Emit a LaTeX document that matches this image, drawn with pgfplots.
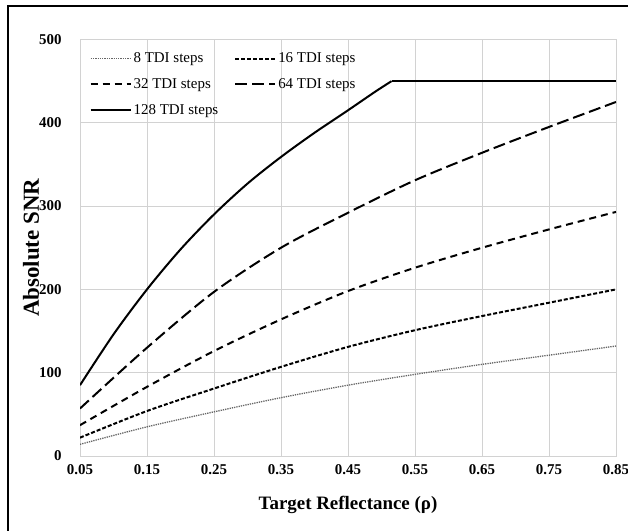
\documentclass[border=0pt]{standalone}
\usepackage{fontspec}
\setmainfont{Liberation Serif}
\usepackage{pgfplots}
\pgfplotsset{compat=1.18}
\begin{document}
\begin{tikzpicture}[x=1bp,y=1bp]
\useasboundingbox (0,0) rectangle (628,531);
\draw[line width=2bp] (8,-5) -- (8,525) -- (640,525);
\begin{axis}[
  at={(80bp,75bp)}, anchor=south west,
  scale only axis, width=536bp, height=416.5bp,
  xmin=0.05, xmax=0.85, ymin=0, ymax=500,
  xtick={0.05,0.15,0.25,0.35,0.45,0.55,0.65,0.75,0.85},
  xticklabels={0.05,0.15,0.25,0.35,0.45,0.55,0.65,0.75,0.85},
  ytick={0,100,200,300,400,500},
  grid=major,
  major grid style={gray!35, line width=0.9bp},
  axis line style={gray!35, line width=0.9bp},
  tick style={draw=none},
  /pgf/number format/assume math mode=true,
  ticklabel style={font=\fontsize{15}{15}\selectfont\bfseries},
  yticklabel style={xshift=-15bp},
  xticklabel style={yshift=-5bp},
  xlabel={Target Reflectance (ρ)},
  ylabel={Absolute SNR},
  xlabel style={at={(axis description cs:0.5,-0.1176)}, anchor=center, font=\fontsize{19}{19}\selectfont\bfseries},
  ylabel style={at={(axis description cs:-0.0914,0.5)}, anchor=center, font=\fontsize{23}{23}\selectfont\bfseries},
  legend columns=2,
  legend cell align=left,
  legend style={at={(axis description cs:0.012,0.978)}, anchor=north west, draw=none, fill=none,
    font=\fontsize{15}{15}\selectfont, row sep=10.5bp,
    /tikz/every even column/.append style={column sep=14bp}},
  legend image code/.code={\draw[#1] (0bp,0bp) -- (40bp,0bp);},
]
\addplot[gray!80!black, line width=1.3bp, densely dotted, smooth] coordinates {
(0.05,14)(0.15,35)(0.25,53)(0.35,70)(0.45,85)(0.55,98)(0.65,110)(0.75,121)(0.85,132)};
\addlegendentry{8 TDI steps}
\addplot[black, line width=2bp, dash pattern=on 4bp off 2bp, smooth] coordinates {
(0.05,22)(0.15,54)(0.25,81)(0.35,107)(0.45,131)(0.55,151)(0.65,168)(0.75,184)(0.85,200)};
\addlegendentry{16 TDI steps}
\addplot[black, line width=2bp, dash pattern=on 7bp off 5bp, smooth] coordinates {
(0.05,37)(0.15,83)(0.25,126)(0.35,164)(0.45,198)(0.55,226)(0.65,250)(0.75,272)(0.85,293)};
\addlegendentry{32 TDI steps}
\addplot[black, line width=2bp, dash pattern=on 12bp off 5bp, smooth] coordinates {
(0.05,57)(0.15,130)(0.25,197)(0.35,250)(0.45,292)(0.55,331)(0.65,364)(0.75,395)(0.85,425)};
\addlegendentry{64 TDI steps}
\addplot[black, line width=2bp, smooth] coordinates {
(0.05,85)(0.10,146)(0.15,200)(0.20,248)(0.25,290)(0.30,327)(0.35,359)(0.40,388)(0.45,415)(0.49,437)(0.515,450)};
\addlegendentry{128 TDI steps}
\addplot[black, line width=2bp, forget plot] coordinates {(0.515,450)(0.85,450)};
\end{axis}
\end{tikzpicture}
\end{document}
